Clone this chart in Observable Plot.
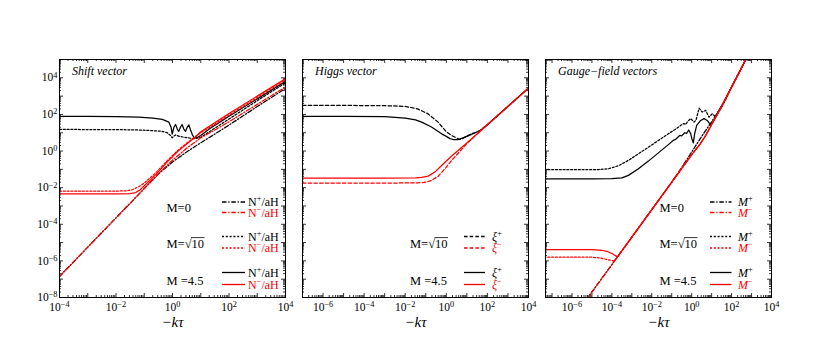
<!DOCTYPE html>
<html><head><meta charset="utf-8">
<script src="https://cdn.jsdelivr.net/npm/d3@7"></script>
<script src="https://cdn.jsdelivr.net/npm/@observablehq/plot@0.6"></script>
<style>
body{margin:0;background:#fff;}
#chart{position:relative;width:830px;height:356px;overflow:hidden;background:#fff;}
#chart svg{position:absolute;left:0;top:0;overflow:visible;}
</style></head><body><div id="chart"></div>
<script>
// ---------- data: pairs of [log10(-kτ), log10(value)] ----------
// Panel 1: Shift vector, N±/aH
const shiftM0Plus = [[-4,-6.85],[-3,-5.25],[-2,-3.65],[-1,-2.05],[-0.5,-1.25],[0,-0.6],[0.5,-0.05],[1,0.45],[1.5,0.93],[2,1.42],[3,2.43],[4,3.42]];
const shiftM0Minus = [[-4,-6.85],[-3,-5.25],[-2,-3.65],[-1,-2.05],[-0.5,-1.25],[0,-0.5],[0.5,0.15],[1,0.72],[1.5,1.15],[2,1.6],[3,2.55],[4,3.5]];
const shiftSqrt10Plus = [[-4,1.18],[-2,1.17],[-1.2,1.15],[-0.78,1.12],[-0.4,1.08],[-0.19,1.0],[-0.07,0.85],[-0.01,0.72],[0.05,0.82],[0.11,0.88],[0.25,0.8],[0.4,0.76],[0.75,0.67],[1.0,0.75],[1.3,1.05],[2,1.75],[3,2.75],[4,3.72]];
const shiftSqrt10Minus = [[-4,-2.19],[-3,-2.19],[-2,-2.19],[-1.6,-2.17],[-1.4,-2.1],[-1.2,-1.95],[-1,-1.75],[-0.6,-1.2],[-0.2,-0.55],[0.2,0.05],[0.6,0.55],[0.8,0.78],[1.0,1.0],[1.3,1.28],[2,1.97],[3,2.92],[4,3.88]];
const shiftM45Plus = [[-4,1.89],[-3,1.89],[-2,1.88],[-1.2,1.85],[-0.7,1.8],[-0.36,1.73],[-0.13,1.58],[-0.05,1.3],[-0.01,0.92],[0.05,1.3],[0.11,1.45],[0.17,1.2],[0.22,1.07],[0.28,1.3],[0.34,1.45],[0.40,1.2],[0.46,1.07],[0.52,1.3],[0.58,1.43],[0.64,1.15],[0.70,0.9],[0.76,0.74],[0.85,0.72],[1.0,0.85],[1.3,1.2],[2,1.9],[3,2.85],[4,3.8]];
const shiftM45Minus = [[-4,-2.34],[-3,-2.34],[-2,-2.34],[-1.5,-2.32],[-1.3,-2.27],[-1.15,-2.12],[-1,-1.9],[-0.6,-1.3],[-0.2,-0.62],[0.2,0.0],[0.6,0.5],[0.8,0.75],[1.0,1.05],[1.3,1.35],[2,2.05],[3,3.0],[4,3.95]];
// Panel 2: Higgs vector, ξ±
const higgsSqrt10Plus = [[-7,2.49],[-5,2.49],[-3,2.48],[-2,2.44],[-1.4,2.3],[-0.9,2.04],[-0.4,1.58],[0,1.05],[0.26,0.85],[0.5,0.71],[0.66,0.63],[0.8,0.68],[0.91,0.76],[1.23,0.95],[1.56,1.05],[2,1.44],[3,2.44],[4,3.44]];
const higgsSqrt10Minus = [[-7,-1.75],[-5,-1.75],[-3,-1.75],[-1.37,-1.74],[-1,-1.7],[-0.72,-1.61],[-0.39,-1.37],[-0.07,-0.97],[0.26,-0.51],[0.58,-0.12],[1,0.42],[2,1.44],[3,2.44],[4,3.44]];
const higgsM45Plus = [[-7,1.89],[-5,1.89],[-3,1.88],[-2,1.8],[-1.5,1.7],[-1.2,1.58],[-0.72,1.31],[-0.23,0.94],[0,0.8],[0.18,0.68],[0.34,0.63],[0.58,0.63],[0.91,0.76],[1.2,0.9],[1.4,1.0],[1.7,1.16],[2,1.44],[3,2.44],[4,3.44]];
const higgsM45Minus = [[-7,-1.48],[-5,-1.48],[-3,-1.48],[-1.5,-1.47],[-1.2,-1.44],[-0.88,-1.37],[-0.56,-1.15],[-0.23,-0.79],[0.26,-0.27],[1,0.44],[2,1.44],[3,2.44],[4,3.44]];
// Panel 3: Gauge-field vectors, M±
const gaugeM0Plus = [[-5.3,-8.15],[-5.2,-8],[-4,-6.2],[-3,-4.7],[-2,-3.2],[-1,-1.7],[-0.5,-0.9],[0,-0.05],[0.5,0.8],[1,1.6],[1.3,2.1],[1.6,2.65],[2,3.5],[2.5,4.55],[2.8,5.2]];
const gaugeM0Minus = [[-5.3,-8.15],[-5.2,-8],[-4,-6.2],[-3,-4.7],[-2,-3.2],[-1,-1.7],[0,-0.2],[0.4,0.35],[0.7,0.85],[1.0,1.45],[1.5,2.45],[2.0,3.5],[2.5,4.55],[2.8,5.2]];
const gaugeSqrt10Plus = [[-7.4,-1.02],[-5,-1.02],[-4.67,-1.01],[-4.17,-0.97],[-3.67,-0.8],[-3.17,-0.51],[-2.67,-0.15],[-2.17,0.21],[-1.67,0.58],[-1.17,0.94],[-0.83,1.18],[-0.55,1.4],[-0.4,1.5],[-0.3,1.45],[-0.2,1.62],[-0.05,1.77],[0.12,1.58],[0.22,1.7],[0.37,2.34],[0.53,2.13],[0.7,2.22],[0.87,1.85],[1.03,2.04],[1.2,1.85],[1.45,2.3],[1.7,2.8],[2,3.5],[2.5,4.55],[2.8,5.2]];
const gaugeSqrt10Minus = [[-7.4,-5.8],[-5,-5.8],[-4.6,-5.84],[-4.22,-5.93],[-4.0,-5.98],[-3.87,-6.0],[-3.5,-5.45],[-3,-4.7],[-2,-3.2],[-1,-1.7],[0,-0.2],[0.4,0.35],[0.7,0.85],[1.0,1.45],[1.5,2.45],[2.0,3.5],[2.5,4.55],[2.8,5.2]];
const gaugeM45Plus = [[-7.4,-1.52],[-5,-1.52],[-4,-1.51],[-3.5,-1.47],[-3.17,-1.33],[-2.67,-0.97],[-2.17,-0.55],[-1.67,-0.1],[-1.17,0.35],[-0.9,0.6],[-0.8,0.64],[-0.6,0.85],[-0.5,0.83],[-0.35,1.0],[-0.25,0.97],[-0.15,1.15],[-0.05,0.95],[0.0,0.7],[0.08,0.45],[0.15,0.95],[0.25,1.4],[0.45,1.67],[0.62,1.77],[0.78,1.67],[0.95,1.42],[1.12,1.67],[1.3,2.1],[1.6,2.65],[2,3.5],[2.5,4.55],[2.8,5.2]];
const gaugeM45Minus = [[-7.4,-5.38],[-5,-5.38],[-4.5,-5.42],[-4.2,-5.5],[-3.97,-5.61],[-3.85,-5.7],[-3.72,-5.78],[-3,-4.7],[-2,-3.2],[-1,-1.7],[0,-0.2],[0.4,0.35],[0.7,0.85],[1.0,1.45],[1.5,2.45],[2.0,3.5],[2.5,4.55],[2.8,5.2]];

// ---------- axes / text ----------
const yDomain = [1e-8, 1e5];
const yTickLabels = [1e-8, 1e-6, 1e-4, 1e-2, 1, 1e2, 1e4];
const xDomainShift = [1e-4, 1e4];
const xDomainHiggs = [1e-7, 1e4];
const xDomainGauge = [4.7e-8, 1e4];
const xTickLabelsShift = [1e-4, 1e-2, 1, 1e2, 1e4];
const xTickLabelsOther = [1e-6, 1e-4, 1e-2, 1, 1e2, 1e4];
const panelTitles = ["Shift vector", "Higgs vector", "Gauge\u2212field vectors"];
const massLabels = ["M=0", "M=\u221A10", "M =4.5"];
const xTitle = "\u2212k\u03C4";

// ---------- layout ----------
const W = 830, H = 356, MT = 59, MB = 59, FW = 226, FH = H - MT - MB;
const FONT = "Liberation Serif, Times New Roman, serif";
const BLACK = "#000", RED = "#ff0000";
const DASHDOT = "4.5,1.8,1.2,1.8", DOT = "2,1.8", DASH = "3.5,2.2";

const toPts = arr => arr.map(([lx, ly]) => ({x: Math.pow(10, lx), y: Math.pow(10, ly)}));

function logTicks([lo, hi]) {
  const majors = [], minors = [];
  for (let e = Math.floor(Math.log10(lo)); e <= Math.ceil(Math.log10(hi)); e++) {
    const b = Math.pow(10, e);
    if (b >= lo * 0.999 && b <= hi * 1.001) majors.push(b);
    for (let m = 2; m <= 9; m++) { const v = m * b; if (v > lo && v < hi) minors.push(v); }
  }
  return {majors, minors};
}
const fmt = d => { const e = Math.round(Math.log10(d)); return "10^" + (e < 0 ? "\u2212" + (-e) : String(e)); };

function panel({left, xDomain, xLabels, showY, series, title}) {
  const xt = logTicks(xDomain), yt = logTicks(yDomain);
  const tk = {stroke: BLACK, strokeWidth: 0.8};
  const marks = [
    Plot.tickX(xt.majors, {x: d => d, insetTop: FH - 4, ...tk}),
    Plot.tickX(xt.majors, {x: d => d, insetBottom: FH - 4, ...tk}),
    Plot.tickX(xt.minors, {x: d => d, insetTop: FH - 2, ...tk}),
    Plot.tickX(xt.minors, {x: d => d, insetBottom: FH - 2, ...tk}),
    Plot.tickY(yt.majors, {y: d => d, insetRight: FW - 4, ...tk}),
    Plot.tickY(yt.majors, {y: d => d, insetLeft: FW - 4, ...tk}),
    Plot.tickY(yt.minors, {y: d => d, insetRight: FW - 2, ...tk}),
    Plot.tickY(yt.minors, {y: d => d, insetLeft: FW - 2, ...tk}),
    ...series.map(s => Plot.line(toPts(s.data), {x: "x", y: "y", stroke: s.color, strokeWidth: 1.25, strokeDasharray: s.dash, clip: true})),
    Plot.frame({stroke: BLACK, strokeWidth: 1}),
    Plot.axisX({ticks: xLabels, tickSize: 0, tickPadding: 5, tickFormat: fmt, fontSize: 11.5, label: null}),
    Plot.text([title], {text: d => d, frameAnchor: "top-left", textAnchor: "start", lineAnchor: "middle", dx: 12.5, dy: 12, fontStyle: "italic", fontSize: 12}),
    Plot.text([xTitle], {text: d => d, frameAnchor: "bottom", lineAnchor: "middle", dy: 25, fontStyle: "italic", fontSize: 15})
  ];
  if (showY) marks.push(Plot.axisY({ticks: yTickLabels, tickSize: 0, tickPadding: 2, tickFormat: fmt, fontSize: 11.5, label: null}));
  const svg = Plot.plot({
    width: W, height: H,
    marginLeft: left, marginRight: W - left - FW, marginTop: MT, marginBottom: MB,
    style: {background: "transparent", fontFamily: FONT, color: BLACK, fontSize: "11.5px"},
    x: {type: "log", domain: xDomain, axis: null, label: null},
    y: {type: "log", domain: yDomain, axis: null, label: null},
    marks
  });
  // superscript exponents
  d3.select(svg).selectAll("text").each(function () {
    const t = this.textContent;
    if (!t.includes("^")) return;
    const [base, exp] = t.split("^");
    const s = d3.select(this); s.text(null);
    s.append("tspan").text(base);
    s.append("tspan").attr("dy", "-0.45em").attr("font-size", "0.72em").text(exp);
  });
  return svg;
}

function addLabel(textSel, parts) {
  parts.forEach(p => {
    const t = textSel.append("tspan").text(p.t);
    if (p.italic) t.attr("font-style", "italic");
    if (p.sup) t.attr("dy", -4).attr("font-size", "0.7em");
    if (p.after) t.attr("dy", 4);
  });
}

function legend(svg, {groupX, lx1, lx2, labelX, rows, plusParts, minusParts}) {
  const g = d3.select(svg).append("g").attr("font-family", FONT).attr("font-size", 12).attr("text-anchor", "start");
  rows.forEach(r => {
    const gt = g.append("text").attr("x", groupX).attr("y", r.y).attr("dominant-baseline", "central").attr("fill", BLACK).attr("font-size", 12.5);
    if (r.label.includes("\u221A")) {
      const [a, b] = r.label.split("\u221A");
      gt.append("tspan").text(a + "\u221A");
      gt.append("tspan").text(b);
      gt.attr("data-radical", b);
    } else gt.text(r.label);
    [[r.y1, BLACK, plusParts], [r.y2, RED, minusParts]].forEach(([yy, col, parts]) => {
      g.append("line").attr("x1", lx1).attr("x2", lx2).attr("y1", yy).attr("y2", yy)
        .attr("stroke", col).attr("stroke-width", 1.3).attr("stroke-dasharray", r.dash);
      const t = g.append("text").attr("x", labelX).attr("y", yy).attr("dominant-baseline", "central").attr("fill", col);
      addLabel(t, parts);
    });
  });
  return g;
}

// draw the bar over the radicand once the text is laid out
function radicalBars(svg) {
  d3.select(svg).selectAll("text[data-radical]").each(function () {
    const spans = this.querySelectorAll("tspan");
    const num = spans[spans.length - 1];
    const n = this.getNumberOfChars();
    const k = num.textContent.length;
    const start = this.getStartPositionOfChar(n - k);
    const end = this.getEndPositionOfChar(n - 1);
    const ext = this.getExtentOfChar(n - 1);
    d3.select(this.parentNode).append("line")
      .attr("x1", start.x - 0.5).attr("x2", end.x + 0.5)
      .attr("y1", ext.y + 0.6).attr("y2", ext.y + 0.6)
      .attr("stroke", BLACK).attr("stroke-width", 0.8);
  });
}

const chart = document.getElementById("chart");
const rowsAll = [
  {label: massLabels[0], y: 207.5, y1: 202, y2: 212.5, dash: DASHDOT},
  {label: massLabels[1], y: 244, y1: 236.5, y2: 248, dash: DOT},
  {label: massLabels[2], y: 280.5, y1: 272.5, y2: 284.5, dash: null}
];

// Panel 1
const s1 = panel({left: 59, xDomain: xDomainShift, xLabels: xTickLabelsShift, showY: true, title: panelTitles[0], series: [
  {data: shiftM0Plus, color: BLACK, dash: DASHDOT},
  {data: shiftSqrt10Plus, color: BLACK, dash: DOT},
  {data: shiftM45Plus, color: BLACK, dash: null},
  {data: shiftM0Minus, color: RED, dash: DASHDOT},
  {data: shiftSqrt10Minus, color: RED, dash: DOT},
  {data: shiftM45Minus, color: RED, dash: null}
]});
legend(s1, {groupX: 166.5, lx1: 222, lx2: 245, labelX: 248, rows: rowsAll,
  plusParts: [{t: "N"}, {t: "+", sup: true}, {t: "/aH", after: true}],
  minusParts: [{t: "N"}, {t: "\u2212", sup: true}, {t: "/aH", after: true}]});
chart.appendChild(s1);

// Panel 2
const s2 = panel({left: 302, xDomain: xDomainHiggs, xLabels: xTickLabelsOther, showY: false, title: panelTitles[1], series: [
  {data: higgsSqrt10Plus, color: BLACK, dash: DASH},
  {data: higgsM45Plus, color: BLACK, dash: null},
  {data: higgsSqrt10Minus, color: RED, dash: DASH},
  {data: higgsM45Minus, color: RED, dash: null}
]});
legend(s2, {groupX: 410, lx1: 464, lx2: 485, labelX: 492,
  rows: [{...rowsAll[1], dash: DASH}, rowsAll[2]],
  plusParts: [{t: "\u03BE", italic: true}, {t: "+", sup: true}],
  minusParts: [{t: "\u03BE", italic: true}, {t: "\u2212", sup: true}]});
chart.appendChild(s2);

// Panel 3
const s3 = panel({left: 545, xDomain: xDomainGauge, xLabels: xTickLabelsOther, showY: false, title: panelTitles[2], series: [
  {data: gaugeM0Plus, color: BLACK, dash: DASHDOT},
  {data: gaugeSqrt10Plus, color: BLACK, dash: DOT},
  {data: gaugeM45Plus, color: BLACK, dash: null},
  {data: gaugeM0Minus, color: RED, dash: DASHDOT},
  {data: gaugeSqrt10Minus, color: RED, dash: DOT},
  {data: gaugeM45Minus, color: RED, dash: null}
]});
legend(s3, {groupX: 659.5, lx1: 710, lx2: 731.5, labelX: 738, rows: rowsAll,
  plusParts: [{t: "M", italic: true}, {t: "+", sup: true}],
  minusParts: [{t: "M", italic: true}, {t: "\u2212", sup: true}]});
chart.appendChild(s3);

[s1, s2, s3].forEach(radicalBars);
</script></body></html>
